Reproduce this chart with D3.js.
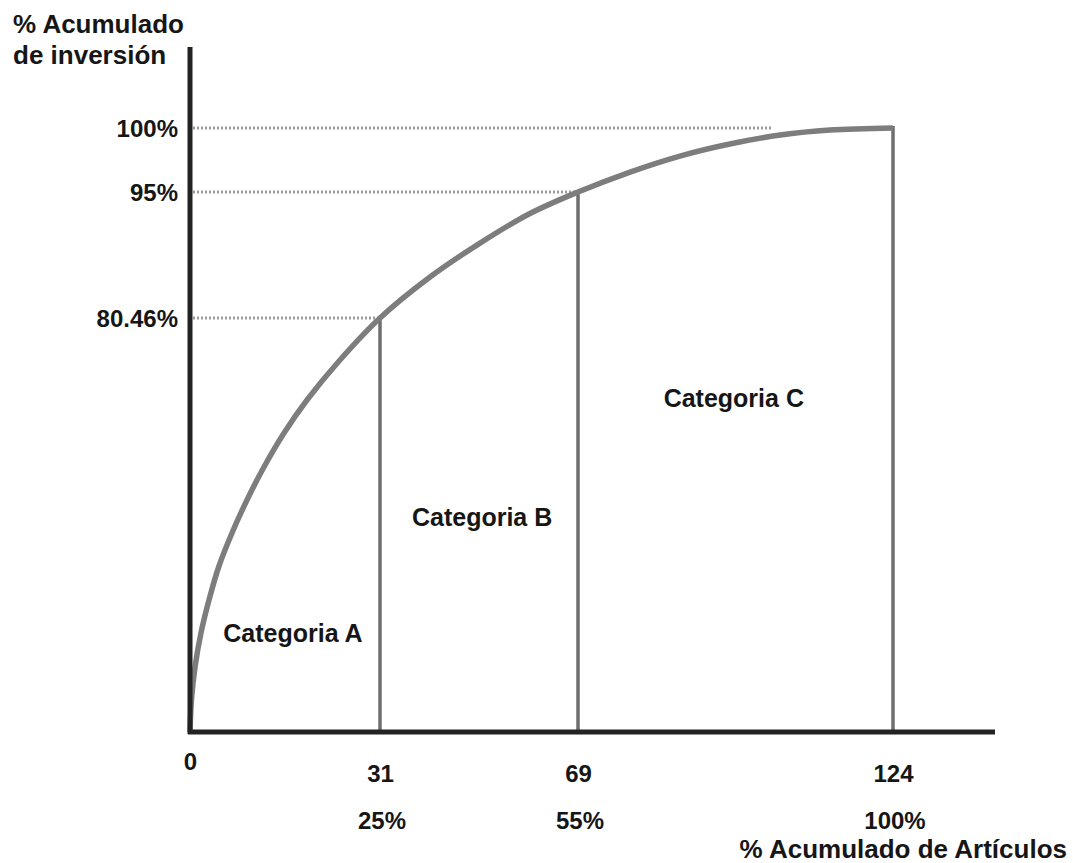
<!DOCTYPE html>
<html>
<head>
<meta charset="utf-8">
<script src="https://cdn.jsdelivr.net/npm/d3@7"></script>
<style>
  body { margin: 0; background: #fff; }
  text { font-family: "Liberation Sans", Arial, sans-serif; font-weight: bold; fill: #161616; }
</style>
</head>
<body>
<div id="chart"></div>
<script>
// ticks on the item axis and their cumulative share
const itemTicks = [0, 31, 69, 124];
const itemPctLabels = ["", "25%", "55%", "100%"];

// ticks on the investment axis
const investTicks = [80.46, 95, 100];

// ABC curve (items, cumulative % investment)
const curveItems = [0, 0.24, 0.82, 1.79, 3.10, 4.73, 6.85, 9.30, 12.07, 15.34, 19.09, 24.47, 31,
                    40.6, 50.2, 59.6, 69, 78.1, 86.8, 95.5, 104.3, 113.0, 124];
const curvePct   = [0, 6.22, 12.63, 19.24, 25.65, 32.26, 38.68, 45.09, 51.50, 58.11, 64.52, 72.30, 80.46,
                    85.19, 89.1, 92.46, 95, 96.56, 97.81, 98.75, 99.45, 99.84, 100];

// where each category boundary / guide meets the curve
const cutItems = [31, 69, 124];
const cutPct   = [80.46, 95, 100];
const guideEndItems = [31, 69, 103];

const categories = ["Categoria A", "Categoria B", "Categoria C"];

const width = 1073, height = 863;

const svg = d3.select("#chart").append("svg")
    .attr("width", width)
    .attr("height", height);

svg.append("rect").attr("width", width).attr("height", height).attr("fill", "#fff");

// the drawing is schematic, so both scales are piecewise
const x = d3.scaleLinear().domain(itemTicks).range([190, 380, 578, 893]);
const y = d3.scaleLinear().domain([0, 80.46, 95, 100]).range([732, 318, 192, 128]);

// dotted guides
svg.append("g")
    .selectAll("line")
    .data(investTicks)
    .join("line")
    .attr("x1", x(0) + 3)
    .attr("x2", (d, i) => x(guideEndItems[i]))
    .attr("y1", d => y(d))
    .attr("y2", d => y(d))
    .attr("stroke", "#9c9c9c")
    .attr("stroke-width", 3)
    .attr("stroke-dasharray", "2,2");

// category boundaries
svg.append("g")
    .selectAll("line")
    .data(cutItems)
    .join("line")
    .attr("x1", d => x(d))
    .attr("x2", d => x(d))
    .attr("y1", (d, i) => y(cutPct[i]) - 2)
    .attr("y2", y(0))
    .attr("stroke", "#6e6e6e")
    .attr("stroke-width", 3.5);

// curve
const pts = curveItems.map((d, i) => [d, curvePct[i]]);
const line = d3.line()
    .x(d => x(d[0]))
    .y(d => y(d[1]))
    .curve(d3.curveCatmullRom.alpha(0.5));

svg.append("path")
    .attr("d", line(pts))
    .attr("fill", "none")
    .attr("stroke", "#7d7d7d")
    .attr("stroke-width", 5.5)
    .attr("stroke-linejoin", "round");

// axes
svg.append("line")
    .attr("x1", x(0)).attr("x2", x(0))
    .attr("y1", 47).attr("y2", y(0) + 2)
    .attr("stroke", "#232323")
    .attr("stroke-width", 5);

svg.append("line")
    .attr("x1", x(0) - 2).attr("x2", 995)
    .attr("y1", y(0)).attr("y2", y(0))
    .attr("stroke", "#232323")
    .attr("stroke-width", 5);

const yAxis = svg.append("g")
    .attr("transform", `translate(${x(0)},0)`)
    .call(d3.axisLeft(y).tickValues(investTicks).tickFormat(d => d + "%").tickSize(0).tickPadding(12));
yAxis.select(".domain").remove();
yAxis.selectAll("text")
    .attr("font-size", 24)
    .attr("font-family", null)
    .attr("dy", "0.36em");

const xAxis = svg.append("g")
    .attr("transform", `translate(0,${y(0)})`)
    .call(d3.axisBottom(x).tickValues(itemTicks).tickFormat(d3.format("d")).tickSize(0).tickPadding(33));
xAxis.select(".domain").remove();
xAxis.selectAll("text")
    .attr("font-size", 24)
    .attr("font-family", null)
    .attr("y", d => d === 0 ? 21 : 33);

svg.append("g")
    .selectAll("text")
    .data(itemTicks)
    .join("text")
    .attr("x", d => x(d) + 2)
    .attr("y", 829)
    .attr("text-anchor", "middle")
    .attr("font-size", 24)
    .text((d, i) => itemPctLabels[i]);

// category labels
const catPos = [[16.8, 17.4], [50.6, 40.0], [96.2, 63.1]];
svg.append("g")
    .selectAll("text")
    .data(categories)
    .join("text")
    .attr("x", (d, i) => x(catPos[i][0]))
    .attr("y", (d, i) => y(catPos[i][1]))
    .attr("text-anchor", "middle")
    .attr("font-size", 25)
    .text(d => d);

// axis titles
svg.append("text")
    .attr("x", 13).attr("y", 33)
    .attr("font-size", 26)
    .text("% Acumulado");
svg.append("text")
    .attr("x", 13).attr("y", 64)
    .attr("font-size", 26)
    .text("de inversión");

svg.append("text")
    .attr("x", 1067).attr("y", 858)
    .attr("text-anchor", "end")
    .attr("font-size", 26)
    .text("% Acumulado de Artículos");
</script>
</body>
</html>
